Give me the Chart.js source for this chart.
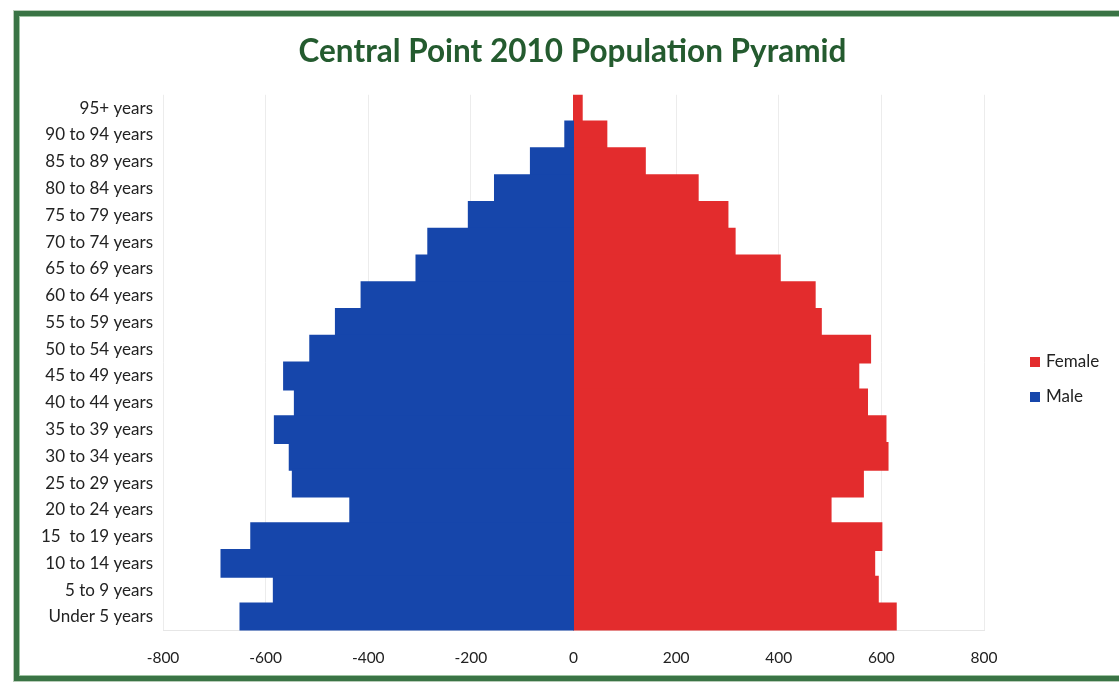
<!DOCTYPE html>
<html>
<head>
<meta charset="utf-8">
<script src="https://cdn.jsdelivr.net/npm/chart.js@4.4.0/dist/chart.umd.min.js"></script>
<style>
    html, body { margin:0; padding:0; background:#fff; overflow:hidden; }
    #frame {
        position:absolute; left:14px; top:11px; width:1130px; height:660px;
        border:5px solid #3a7445;
        box-shadow: 0 0 0 1px #b9cdb9, inset 0 0 0 1px #9fc4a3;
    }
    #wrap { position:absolute; left:0; top:0; width:1119px; height:685px; }
</style>
</head>
<body>
<div id="frame"></div>
<div id="wrap"><canvas id="c" width="1119" height="685"></canvas></div>
<script>
// age groups, top to bottom as in the picture
var ageGroups = ["95+ years", "90 to 94 years", "85 to 89 years", "80 to 84 years", "75 to 79 years",
    "70 to 74 years", "65 to 69 years", "60 to 64 years", "55 to 59 years", "50 to 54 years",
    "45 to 49 years", "40 to 44 years", "35 to 39 years", "30 to 34 years", "25 to 29 years",
    "20 to 24 years", "15  to 19 years", "10 to 14 years", "5 to 9 years", "Under 5 years"];

// males are plotted as negatives (left side)
var maleValues = [0, -16, -83, -153, -204, -283, -306, -413, -463, -513,
    -564, -543, -582, -553, -547, -435, -628, -686, -584, -649];

var femaleValues = [16, 64, 139, 242, 300, 314, 402, 470, 482, 578,
    555, 572, 608, 612, 564, 501, 600, 586, 593, 628];

var xTicks = [-800, -600, -400, -200, 0, 200, 400, 600, 800];

var FONT = "Lato, 'Open Sans', sans-serif";

// close the hairline seams between bars, but keep zero bars invisible
function inflate(c){
    return c.raw === 0 ? 0 : 1;
}

// legend on the right, Female above Male like Excel draws it
var sideLegend = {
    id : "sideLegend",
    afterDraw : function(chart){
        var ctx = chart.ctx;
        var ds = chart.data.datasets.slice().reverse();
        ctx.save();
        ctx.font = "17px " + FONT;
        ctx.textBaseline = "middle";
        for(var i=0;i<ds.length;i++){
            var y = 362 + i*35;
            ctx.fillStyle = ds[i].backgroundColor;
            ctx.fillRect(1030, y-5, 10, 10);
            ctx.fillStyle = "#222";
            ctx.fillText(ds[i].label, 1046, y);
        }
        ctx.restore();
    }
};

var ctx = document.getElementById("c").getContext("2d");
var chart = new Chart(ctx, {
    type : "bar",
    data : {
        labels : ageGroups,
        datasets : [
            { label : "Male", data : maleValues, backgroundColor : "#1646ab", borderWidth : 0,
              barPercentage : 1, categoryPercentage : 1, inflateAmount : inflate },
            { label : "Female", data : femaleValues, backgroundColor : "#e32c2d", borderWidth : 0,
              barPercentage : 1, categoryPercentage : 1, inflateAmount : inflate }
        ]
    },
    options : {
        indexAxis : "y",
        responsive : false,
        animation : false,
        layout : { padding : { left : 26, right : 0, top : 0, bottom : 0 } },
        plugins : {
            legend : { display : false },
            tooltip : { enabled : false },
            title : {
                display : true,
                text : "Central Point 2010 Population Pyramid",
                color : "#245b2f",
                font : { family : FONT, size : 31.5, weight : "bold" },
                padding : { top : 33, bottom : 24 }
            }
        },
        scales : {
            x : {
                stacked : true,
                min : -800, max : 800,
                afterBuildTicks : function(scale){
                    scale.ticks = xTicks.map(function(v){ return { value : v }; });
                },
                grid : { color : "#ececec", drawTicks : false },
                border : { color : "#e6e6e6" },
                ticks : { color : "#222", padding : 18, font : { family : FONT, size : 15.5 } }
            },
            y : {
                stacked : true,
                afterFit : function(scale){ scale.width = 137; },
                grid : { display : false },
                border : { display : false },
                ticks : { color : "#222", padding : 2, autoSkip : false, font : { family : FONT, size : 17 } }
            },
            // empty right-hand axis that keeps room for the legend
            yRight : {
                type : "category",
                position : "right",
                afterFit : function(scale){ scale.width = 135; },
                grid : { display : false },
                border : { display : false },
                ticks : { display : false }
            }
        }
    },
    plugins : [sideLegend]
});
</script>
</body>
</html>
